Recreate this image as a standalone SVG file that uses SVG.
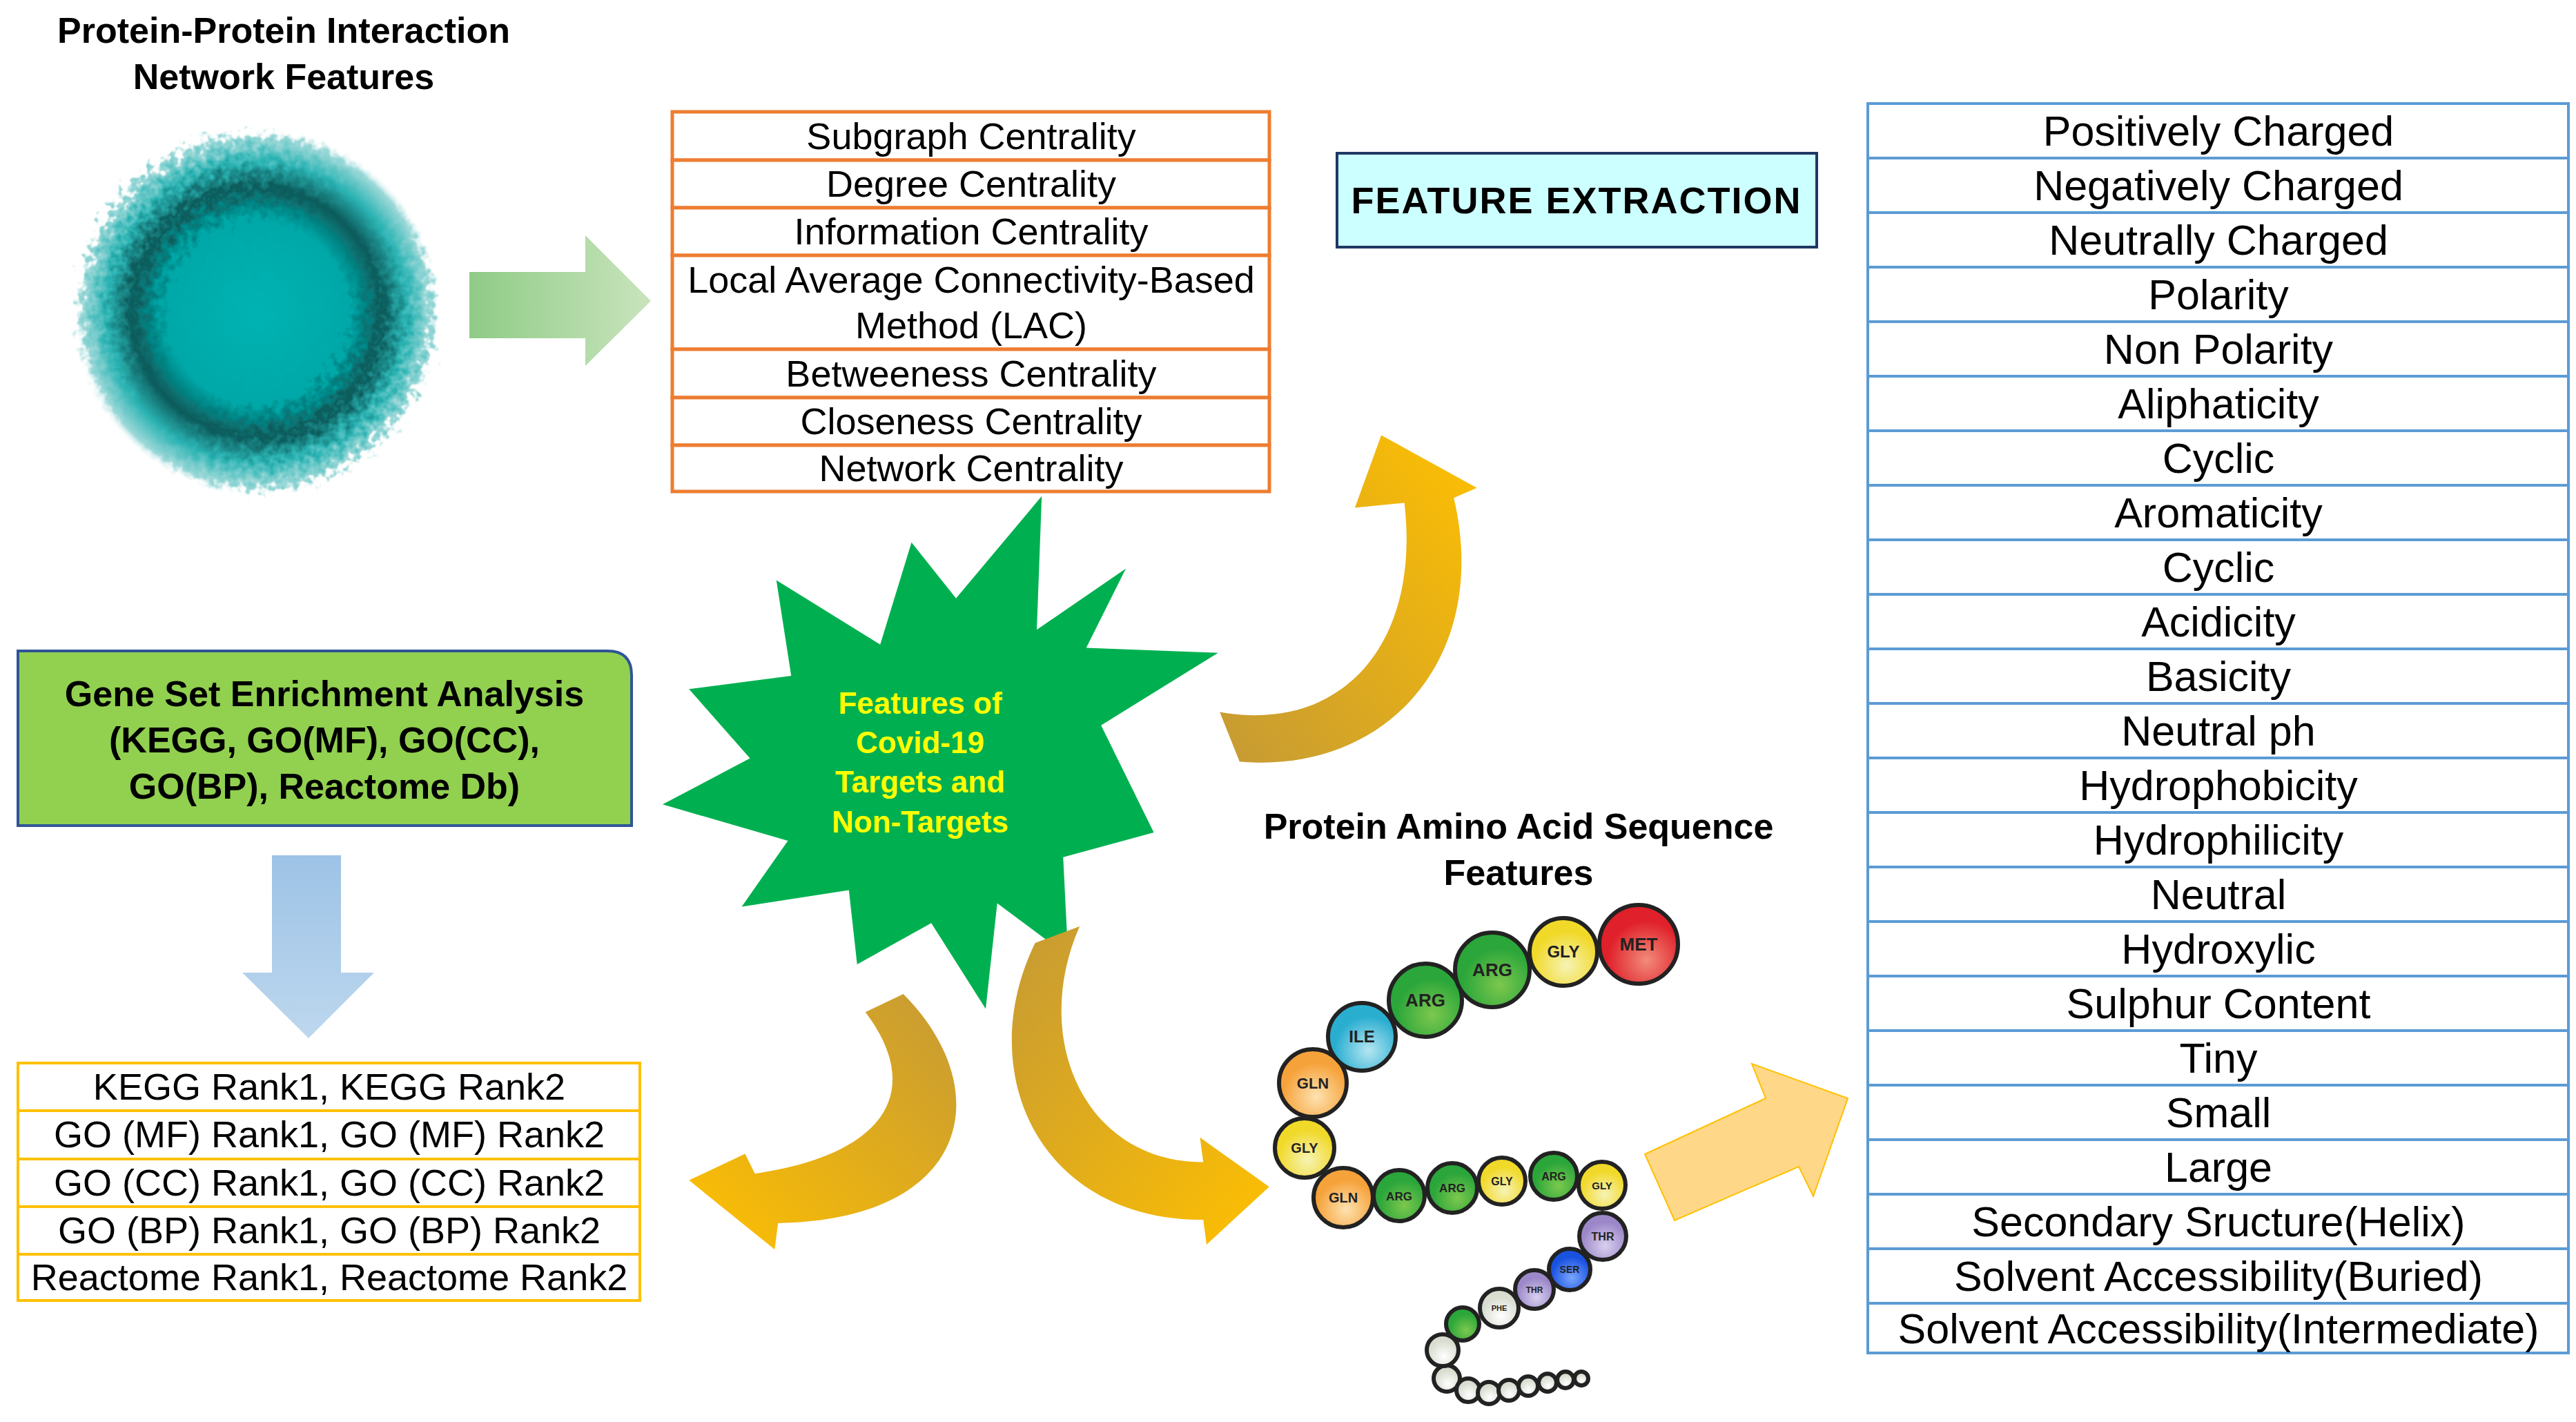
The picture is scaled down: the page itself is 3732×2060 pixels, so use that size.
<svg xmlns="http://www.w3.org/2000/svg" width="3732" height="2060" viewBox="0 0 3732 2060">
<style>
.t{font-family:"Liberation Sans",Arial,sans-serif;fill:#000;text-anchor:middle}
.b{font-weight:bold}
.o{fill:#fff;stroke:#ed7d31;stroke-width:5}
.bl{fill:#fff;stroke:#5b9bd5;stroke-width:4}
.y{fill:#fff;stroke:#ffc000;stroke-width:4}
.aa{stroke:#222;stroke-width:6}
.al{font-family:"Liberation Sans",Arial,sans-serif;font-weight:bold;text-anchor:middle;fill:#222}
</style>
<defs>
<linearGradient id="gArr" x1="0" y1="0" x2="1" y2="0"><stop offset="0" stop-color="#8fcb86"/><stop offset="1" stop-color="#c9e4bd"/></linearGradient>
<linearGradient id="bArr" x1="0" y1="0" x2="0" y2="1"><stop offset="0" stop-color="#9dc3e6"/><stop offset="1" stop-color="#bdd7ee"/></linearGradient>
<linearGradient id="y1" x1="0" y1="1" x2="1" y2="0"><stop offset="0" stop-color="#c59a35"/><stop offset="1" stop-color="#ffc000"/></linearGradient>
<linearGradient id="y2" x1="1" y1="0" x2="0" y2="1"><stop offset="0" stop-color="#c59a35"/><stop offset="1" stop-color="#ffc000"/></linearGradient>
<linearGradient id="y3" x1="0" y1="0" x2="1" y2="1"><stop offset="0" stop-color="#c59a35"/><stop offset="1" stop-color="#ffc000"/></linearGradient>
<radialGradient id="net"><stop offset="0" stop-color="#00b3b3"/><stop offset="0.5" stop-color="#00a8a8"/><stop offset="0.68" stop-color="#0b5a5a"/><stop offset="0.82" stop-color="#2bb3b3"/><stop offset="0.95" stop-color="#9ed9d9"/><stop offset="1" stop-color="#ffffff" stop-opacity="0"/></radialGradient>
<filter id="fz" x="-10%" y="-10%" width="120%" height="120%"><feTurbulence type="fractalNoise" baseFrequency="0.09" numOctaves="2" result="n"/><feDisplacementMap in="SourceGraphic" in2="n" scale="40"/></filter>
<radialGradient id="cR" cx="0.6" cy="0.7"><stop offset="0" stop-color="#f28b7a"/><stop offset="1" stop-color="#e0202a"/></radialGradient>
<radialGradient id="cY" cx="0.55" cy="0.7"><stop offset="0" stop-color="#f6f3b5"/><stop offset="1" stop-color="#f1d92a"/></radialGradient>
<radialGradient id="cG" cx="0.6" cy="0.7"><stop offset="0" stop-color="#7cc84e"/><stop offset="1" stop-color="#2ba63a"/></radialGradient>
<radialGradient id="cC" cx="0.6" cy="0.7"><stop offset="0" stop-color="#b5e6f3"/><stop offset="1" stop-color="#2aaed0"/></radialGradient>
<radialGradient id="cO" cx="0.55" cy="0.7"><stop offset="0" stop-color="#fde2b0"/><stop offset="1" stop-color="#f6a23a"/></radialGradient>
<radialGradient id="cP" cx="0.55" cy="0.7"><stop offset="0" stop-color="#d9d0ef"/><stop offset="1" stop-color="#9c88c9"/></radialGradient>
<radialGradient id="cB" cx="0.55" cy="0.7"><stop offset="0" stop-color="#7aa6ff"/><stop offset="1" stop-color="#1a52e0"/></radialGradient>
<radialGradient id="cW" cx="0.55" cy="0.7"><stop offset="0" stop-color="#ffffff"/><stop offset="1" stop-color="#d8ddd0"/></radialGradient>
</defs>

<g id="ppi-title"><text class="t b" x="411" y="62" font-size="52">Protein-Protein Interaction</text><text class="t b" x="411" y="129" font-size="52">Network Features</text></g>
<g id="network-blob"><ellipse cx="372" cy="452" rx="265" ry="265" fill="url(#net)" filter="url(#fz)"/></g>

<g id="centrality-table">
<rect class="o" x="974" y="162" width="865" height="70"/><rect class="o" x="974" y="232" width="865" height="69"/><rect class="o" x="974" y="301" width="865" height="69"/><rect class="o" x="974" y="370" width="865" height="136"/><rect class="o" x="974" y="506" width="865" height="70"/><rect class="o" x="974" y="576" width="865" height="69"/><rect class="o" x="974" y="645" width="865" height="67"/>
<g class="t" font-size="54"><text x="1407" y="216">Subgraph Centrality</text><text x="1407" y="285">Degree Centrality</text><text x="1407" y="354">Information Centrality</text><text x="1407" y="424">Local Average Connectivity-Based</text><text x="1407" y="490">Method (LAC)</text><text x="1407" y="560">Betweeness Centrality</text><text x="1407" y="629">Closeness Centrality</text><text x="1407" y="697">Network Centrality</text></g>
</g>

<g id="feature-extraction"><rect x="1937" y="222" width="695" height="136" fill="#ccffff" stroke="#1f3864" stroke-width="4"/><text class="t b" x="2284" y="309" font-size="54" letter-spacing="2">FEATURE EXTRACTION</text></g>

<g id="sequence-table">
<g class="bl">
<rect x="2706" y="150" width="1015" height="79"/><rect x="2706" y="229" width="1015" height="79"/><rect x="2706" y="308" width="1015" height="79"/><rect x="2706" y="387" width="1015" height="79"/><rect x="2706" y="466" width="1015" height="79"/><rect x="2706" y="545" width="1015" height="79"/><rect x="2706" y="624" width="1015" height="79"/><rect x="2706" y="703" width="1015" height="79"/><rect x="2706" y="782" width="1015" height="79"/><rect x="2706" y="861" width="1015" height="79"/><rect x="2706" y="940" width="1015" height="79"/><rect x="2706" y="1019" width="1015" height="79"/><rect x="2706" y="1098" width="1015" height="79"/><rect x="2706" y="1177" width="1015" height="79"/><rect x="2706" y="1256" width="1015" height="79"/><rect x="2706" y="1335" width="1015" height="79"/><rect x="2706" y="1414" width="1015" height="79"/><rect x="2706" y="1493" width="1015" height="79"/><rect x="2706" y="1572" width="1015" height="79"/><rect x="2706" y="1651" width="1015" height="79"/><rect x="2706" y="1730" width="1015" height="79"/><rect x="2706" y="1809" width="1015" height="79"/><rect x="2706" y="1888" width="1015" height="72"/>
</g>
<g class="t" font-size="61">
<text x="3214" y="211">Positively Charged</text><text x="3214" y="290">Negatively Charged</text><text x="3214" y="369">Neutrally Charged</text><text x="3214" y="448">Polarity</text><text x="3214" y="527">Non Polarity</text><text x="3214" y="606">Aliphaticity</text><text x="3214" y="685">Cyclic</text><text x="3214" y="764">Aromaticity</text><text x="3214" y="843">Cyclic</text><text x="3214" y="922">Acidicity</text><text x="3214" y="1001">Basicity</text><text x="3214" y="1080">Neutral ph</text><text x="3214" y="1159">Hydrophobicity</text><text x="3214" y="1238">Hydrophilicity</text><text x="3214" y="1317">Neutral</text><text x="3214" y="1396">Hydroxylic</text><text x="3214" y="1475">Sulphur Content</text><text x="3214" y="1554">Tiny</text><text x="3214" y="1633">Small</text><text x="3214" y="1712">Large</text><text x="3214" y="1791">Secondary Sructure(Helix)</text><text x="3214" y="1870">Solvent Accessibility(Buried)</text><text x="3214" y="1946">Solvent Accessibility(Intermediate)</text>
</g>
</g>

<g id="gsea-box"><path d="M26,943 H880 Q915,943 915,978 V1196 H26 Z" fill="#92d050" stroke="#2f5597" stroke-width="4"/>
<g class="t b" font-size="52"><text x="470" y="1023">Gene Set Enrichment Analysis</text><text x="470" y="1090">(KEGG, GO(MF), GO(CC),</text><text x="470" y="1157">GO(BP), Reactome Db)</text></g></g>

<g id="rank-table">
<g class="y"><rect x="26" y="1540" width="901" height="69"/><rect x="26" y="1609" width="901" height="70"/><rect x="26" y="1679" width="901" height="69"/><rect x="26" y="1748" width="901" height="69"/><rect x="26" y="1817" width="901" height="67"/></g>
<g class="t" font-size="54"><text x="477" y="1593">KEGG Rank1, KEGG Rank2</text><text x="477" y="1662">GO (MF) Rank1, GO (MF) Rank2</text><text x="477" y="1732">GO (CC) Rank1, GO (CC) Rank2</text><text x="477" y="1801">GO (BP) Rank1, GO (BP) Rank2</text><text x="477" y="1869">Reactome Rank1, Reactome Rank2</text></g>
</g>

<g id="star">
<polygon transform="scale(2.388)" fill="#00b050" points="632,301 629,382 683,345 659,393 739,396 668,440 700,505 645,520 648,580 605,548 598,612 565,560 520,585 515,540 450,550 478,510 402,488 455,460 418,418 480,410 471,352 534,391 553,329 580,363"/>
<g class="t b" font-size="44" style="fill:#ffff00"><text x="1333" y="1034">Features of</text><text x="1333" y="1091">Covid-19</text><text x="1333" y="1148">Targets and</text><text x="1333" y="1206">Non-Targets</text></g>
</g>

<g id="amino-title"><text class="t b" x="2200" y="1215" font-size="52">Protein Amino Acid Sequence</text><text class="t b" x="2200" y="1282" font-size="52">Features</text></g>

<g id="amino-chain">
<g class="aa">
<circle cx="2096" cy="1997" r="19" fill="url(#cW)"/><circle cx="2127" cy="2014" r="17" fill="url(#cW)"/><circle cx="2157" cy="2018" r="16" fill="url(#cW)"/><circle cx="2186" cy="2014" r="15" fill="url(#cW)"/><circle cx="2214" cy="2008" r="14" fill="url(#cW)"/><circle cx="2242" cy="2003" r="13" fill="url(#cW)"/><circle cx="2268" cy="1999" r="12" fill="url(#cW)"/><circle cx="2291" cy="1997" r="10" fill="url(#cW)"/>
<circle cx="2090" cy="1956" r="23" fill="url(#cW)"/><circle cx="2119" cy="1918" r="24" fill="url(#cG)"/><circle cx="2172" cy="1895" r="28" fill="url(#cW)"/><circle cx="2223" cy="1868" r="28" fill="url(#cP)"/><circle cx="2274" cy="1839" r="30" fill="url(#cB)"/><circle cx="2322" cy="1791" r="34" fill="url(#cP)"/>
<circle cx="2321" cy="1717" r="34" fill="url(#cY)"/><circle cx="2251" cy="1704" r="34" fill="url(#cG)"/><circle cx="2176" cy="1711" r="34" fill="url(#cY)"/><circle cx="2104" cy="1721" r="36" fill="url(#cG)"/><circle cx="2027" cy="1732" r="37" fill="url(#cG)"/><circle cx="1946" cy="1735" r="43" fill="url(#cO)"/>
<circle cx="1890" cy="1663" r="43" fill="url(#cY)"/><circle cx="1902" cy="1569" r="49" fill="url(#cO)"/><circle cx="1973" cy="1502" r="49" fill="url(#cC)"/><circle cx="2065" cy="1449" r="53" fill="url(#cG)"/><circle cx="2162" cy="1405" r="54" fill="url(#cG)"/><circle cx="2265" cy="1379" r="49" fill="url(#cY)"/><circle cx="2374" cy="1368" r="57" fill="url(#cR)"/>
</g>
<g class="al">
<text x="2374" y="1377" font-size="26">MET</text><text x="2265" y="1387" font-size="24">GLY</text><text x="2162" y="1414" font-size="26">ARG</text><text x="2065" y="1458" font-size="26">ARG</text><text x="1973" y="1510" font-size="24">ILE</text><text x="1902" y="1577" font-size="22">GLN</text><text x="1890" y="1670" font-size="20">GLY</text><text x="1946" y="1742" font-size="20">GLN</text><text x="2027" y="1739" font-size="17">ARG</text><text x="2104" y="1727" font-size="17">ARG</text><text x="2176" y="1717" font-size="16">GLY</text><text x="2251" y="1710" font-size="16">ARG</text><text x="2321" y="1723" font-size="15">GLY</text><text x="2322" y="1797" font-size="16">THR</text><text x="2274" y="1844" font-size="14">SER</text><text x="2223" y="1873" font-size="12">THR</text><text x="2172" y="1899" font-size="11">PHE</text>
</g>
</g>

<g id="connectors">
<polygon points="680,394 848,394 848,341 943,436 848,530 848,490 680,490" fill="url(#gArr)"/>
<polygon points="394,1239 494,1239 494,1409 542,1409 447,1504 351,1409 394,1409" fill="url(#bArr)"/>
<path transform="scale(2.388)" fill="url(#y1)" d="M740,432 C815,445 862,390 852,305 L822,308 L838,264 L896,296 L882,302 C905,400 840,470 752,462 Z"/>
<path transform="scale(2.388)" fill="url(#y2)" d="M525,614 L548,603 C605,660 590,740 472,742 L470,758 L418,716 L452,700 L458,712 C540,700 560,660 525,614 Z"/>
<path transform="scale(2.388)" fill="url(#y3)" d="M628,572 C590,650 630,740 730,740 L732,755 L770,720 L728,690 L730,705 C658,705 625,630 655,562 Z"/>
<polygon points="2383,1672 2558,1591 2538,1541 2677,1591 2627,1733 2606,1690 2426,1768" fill="#fed888" stroke="#ffc000" stroke-width="2"/>
</g>
</svg>
